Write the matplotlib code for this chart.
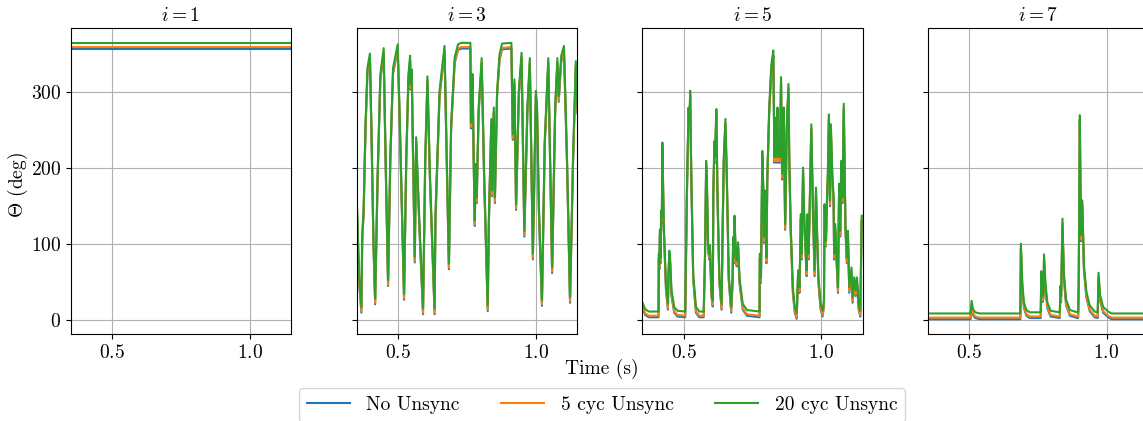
#!/usr/bin/env python3
# -*- coding: utf-8 -*-
"""
Rotor angle trajectories for generators i = 1, 3, 5, 7 under three
unsynchronised-update settings.  Writes out.png.
"""
import matplotlib
matplotlib.use("Agg")
import matplotlib.pyplot as plt

FS = 14
plt.rcParams.update({
    "font.family": "serif",
    "font.serif": ["cmr10"],
    "mathtext.fontset": "cm",
    "axes.formatter.use_mathtext": True,
    "axes.unicode_minus": False,
    "font.size": FS,
})

SERIES = ["No Unsync", "5 cyc Unsync", "20 cyc Unsync"]
COLORS = ["#1f77b4", "#ff7f0e", "#2ca02c"]
# level shift of each setting relative to "No Unsync" (deg)
UNSYNC_SHIFT = [0.0, 2.0, 7.5]

GEN_IDX = [1, 3, 5, 7]

# i = 1 : settles immediately
T1 = [0.30, 1.25]
TH1 = [357, 357]

# i = 3
T3 = [0.350, 0.359, 0.367, 0.370, 0.372, 0.375, 0.382, 0.389, 0.398, 0.404,
      0.411, 0.417, 0.426, 0.436, 0.448, 0.455, 0.464, 0.472, 0.482, 0.499,
      0.507, 0.522, 0.530, 0.538, 0.544, 0.546, 0.550, 0.555, 0.561, 0.566,
      0.578, 0.591, 0.599, 0.607, 0.616, 0.633, 0.636, 0.651, 0.669, 0.676,
      0.685, 0.693, 0.706, 0.718, 0.730, 0.763, 0.765, 0.769, 0.771, 0.775,
      0.779, 0.782, 0.786, 0.793, 0.804, 0.813, 0.826, 0.830, 0.839, 0.842,
      0.848, 0.852, 0.860, 0.869, 0.878, 0.912, 0.917, 0.923, 0.929, 0.939,
      0.949, 0.959, 0.970, 0.979, 0.990, 1.001, 1.005, 1.012, 1.023, 1.033,
      1.046, 1.060, 1.071, 1.079, 1.084, 1.093, 1.103, 1.114, 1.125, 1.136,
      1.146, 1.152]
TH3 = [154, 49, 10, 102, 119, 137, 250, 324, 343, 237,
       97, 21, 185, 316, 350, 207, 45, 207, 324, 355,
       250, 27, 207, 316, 340, 303, 322, 207, 76, 233,
       119, 8, 207, 313, 185, 8, 130, 294, 353, 228,
       67, 250, 338, 355, 357, 357, 252, 294, 316, 207,
       124, 198, 154, 272, 337, 185, 12, 124, 257, 163,
       272, 154, 294, 342, 356, 357, 237, 309, 145, 294,
       344, 110, 272, 337, 80, 294, 276, 141, 19, 228,
       337, 62, 272, 337, 287, 340, 353, 207, 23, 207,
       333, 272]

# i = 5
T5 = [0.350, 0.361, 0.374, 0.409, 0.410, 0.412, 0.414, 0.416, 0.419, 0.421,
      0.423, 0.428, 0.436, 0.443, 0.445, 0.448, 0.451, 0.456, 0.466, 0.478,
      0.506, 0.512, 0.518, 0.521, 0.524, 0.528, 0.535, 0.545, 0.557, 0.573,
      0.578, 0.582, 0.585, 0.589, 0.593, 0.596, 0.601, 0.606, 0.608, 0.612,
      0.614, 0.619, 0.623, 0.630, 0.638, 0.642, 0.646, 0.652, 0.657, 0.664,
      0.673, 0.678, 0.680, 0.683, 0.685, 0.689, 0.693, 0.698, 0.703, 0.715,
      0.730, 0.776, 0.777, 0.781, 0.786, 0.790, 0.792, 0.796, 0.801, 0.804,
      0.811, 0.819, 0.826, 0.830, 0.833, 0.837, 0.841, 0.844, 0.848, 0.850,
      0.854, 0.858, 0.860, 0.864, 0.869, 0.875, 0.881, 0.884, 0.889, 0.897,
      0.904, 0.911, 0.916, 0.921, 0.926, 0.929, 0.934, 0.938, 0.942, 0.947,
      0.950, 0.954, 0.957, 0.964, 0.970, 0.976, 0.981, 0.985, 0.990, 0.998,
      1.005, 1.010, 1.012, 1.017, 1.021, 1.024, 1.028, 1.032, 1.035, 1.040,
      1.045, 1.047, 1.051, 1.056, 1.061, 1.065, 1.069, 1.073, 1.077, 1.082,
      1.088, 1.093, 1.097, 1.102, 1.110, 1.114, 1.120, 1.125, 1.130, 1.136,
      1.142, 1.147, 1.152]
TH5 = [16, 7, 4, 4, 80, 67, 112, 75, 137, 128,
       226, 119, 40, 14, 53, 84, 75, 32, 10, 5,
       4, 163, 272, 254, 294, 185, 53, 10, 4, 4,
       84, 202, 172, 93, 80, 91, 32, 18, 163, 228,
       207, 270, 163, 49, 14, 119, 207, 257, 185, 53,
       10, 49, 102, 75, 130, 88, 71, 95, 49, 14,
       6, 4, 80, 49, 215, 163, 102, 163, 75, 180,
       272, 329, 347, 207, 259, 207, 272, 207, 228, 207,
       312, 185, 228, 272, 119, 250, 303, 207, 119, 36,
       10, 2, 58, 36, 132, 80, 193, 132, 97, 58,
       132, 80, 124, 250, 141, 58, 167, 110, 49, 14,
       5, 18, 145, 97, 154, 185, 263, 150, 250, 189,
       154, 80, 119, 75, 36, 172, 110, 202, 154, 277,
       119, 75, 110, 36, 62, 23, 49, 32, 49, 14,
       5, 130, 130]

# i = 7
T7 = [0.300, 0.506, 0.510, 0.515, 0.523, 0.539, 0.687, 0.689, 0.694, 0.700,
      0.709, 0.721, 0.761, 0.763, 0.767, 0.771, 0.773, 0.778, 0.785, 0.797,
      0.830, 0.833, 0.835, 0.840, 0.845, 0.853, 0.867, 0.894, 0.897, 0.899,
      0.903, 0.907, 0.912, 0.918, 0.927, 0.939, 0.957, 0.968, 0.971, 0.977,
      0.988, 1.006, 1.018, 1.250]
TH7 = [1.5, 1.5, 18, 7, 3, 1.5, 1.5, 93, 42, 16,
       6, 3, 3, 57, 24, 28, 79, 42, 16, 5,
       3, 38, 24, 126, 55, 20, 6, 3, 3, 42,
       262, 104, 150, 65, 30, 12, 4, 3, 55, 25,
       10, 4, 1.5, 1.5]

TRACES = [(T1, TH1), (T3, TH3), (T5, TH5), (T7, TH7)]

FIG_W, FIG_H = 1143, 421
AX_LEFT_PX = [70.7, 356.7, 642.3, 927.6]
AX_W_PX = 220.2
AX_TOP_PX, AX_BOT_PX = 28, 334


def main():
    fig = plt.figure(figsize=(FIG_W / 100, FIG_H / 100), dpi=100)
    bottom = 1 - AX_BOT_PX / FIG_H
    height = (AX_BOT_PX - AX_TOP_PX) / FIG_H

    axes = []
    for k, (gi, (t, th)) in enumerate(zip(GEN_IDX, TRACES)):
        ax = fig.add_axes([AX_LEFT_PX[k] / FIG_W, bottom,
                           AX_W_PX / FIG_W, height],
                          sharey=axes[0] if axes else None)
        for name, color, shift in zip(SERIES, COLORS, UNSYNC_SHIFT):
            ax.plot(t, [v + shift for v in th], color=color, lw=1.5,
                    label=name)
        ax.set_xlim(0.35, 1.15)
        ax.set_xticks([0.5, 1.0])
        ax.set_title(rf"$i={gi}$", fontsize=FS, pad=5)
        ax.grid(True, color="#b0b0b0", lw=0.8)
        if k > 0:
            ax.tick_params(labelleft=False)
        axes.append(ax)

    axes[0].set_ylim(-18, 384)
    axes[0].set_yticks([0, 100, 200, 300])

    fig.text(18 / FIG_W, 1 - 185 / FIG_H, r"$\Theta$ (deg)", rotation=90,
             ha="center", va="center", fontsize=FS)
    fig.text(602 / FIG_W, 1 - 369 / FIG_H, "Time (s)",
             ha="center", va="center", fontsize=FS)

    handles, labels = axes[0].get_legend_handles_labels()
    fig.legend(handles, labels, loc="upper center", ncol=3, fontsize=FS,
               bbox_to_anchor=(602 / FIG_W, 1 - 388 / FIG_H),
               borderaxespad=0, handlelength=2.2, handletextpad=0.85,
               columnspacing=2.15, frameon=True)

    fig.savefig("out.png", dpi=100)
    plt.close(fig)


if __name__ == "__main__":
    main()
